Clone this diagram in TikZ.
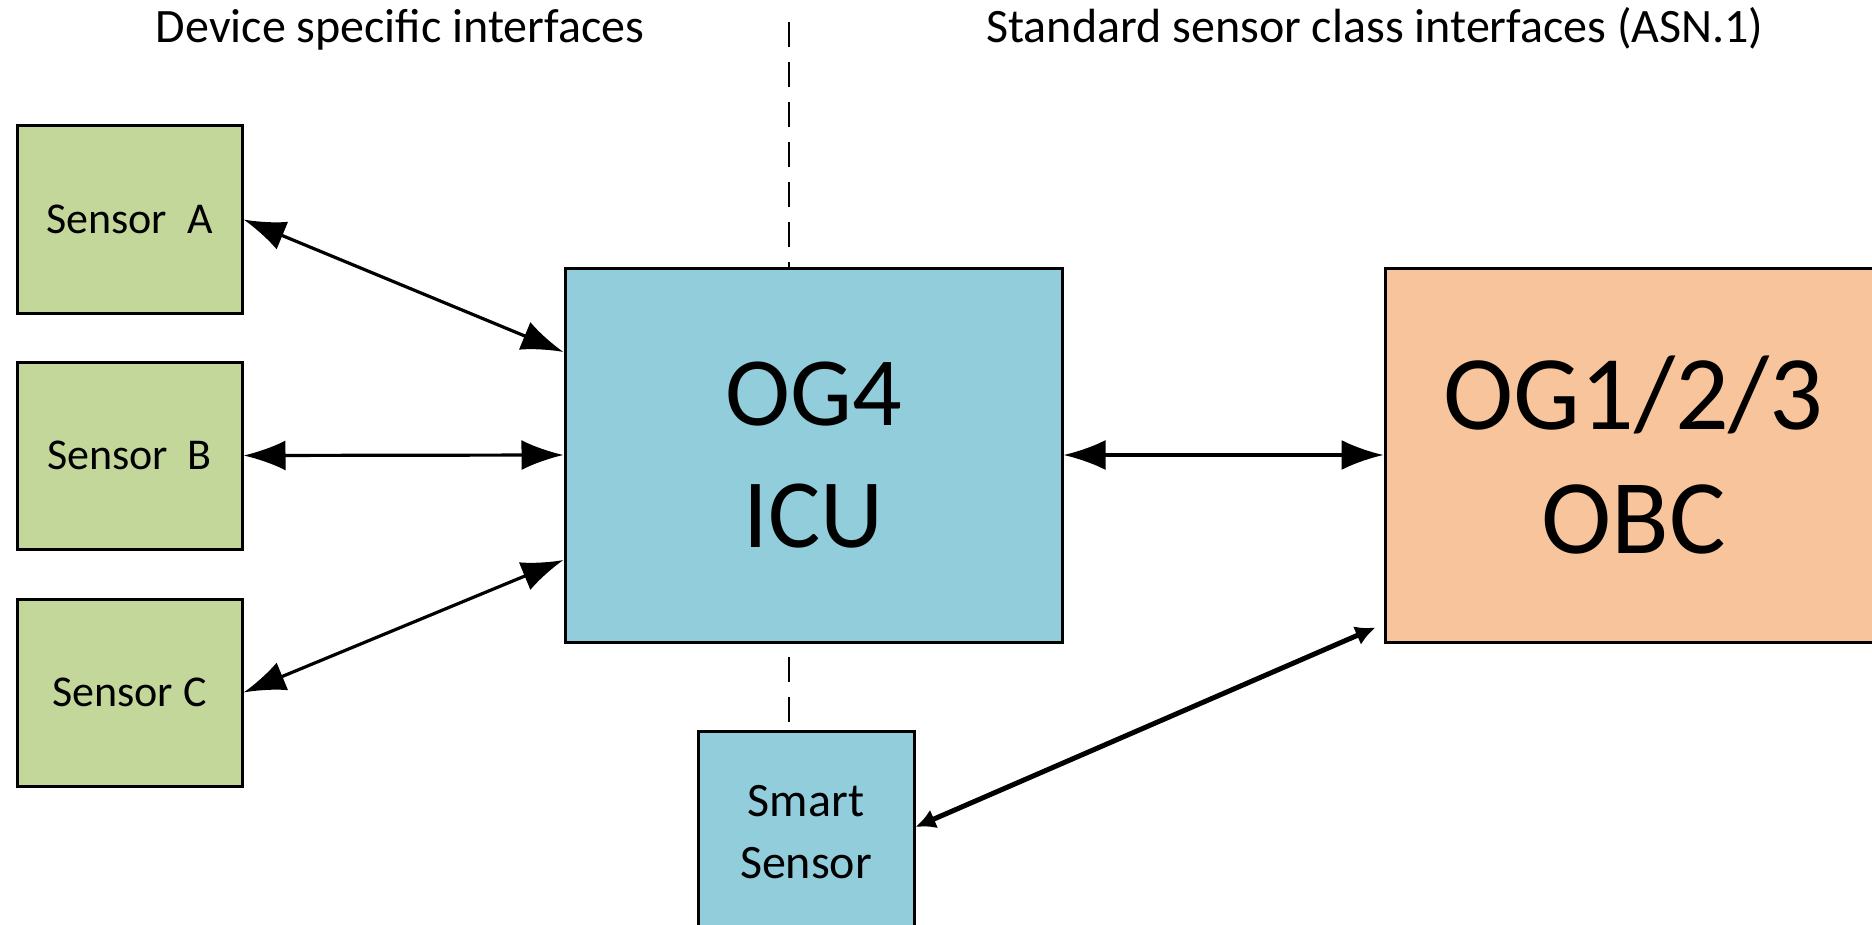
\documentclass[tikz,border=0pt]{standalone}
\usepackage{fontspec}
\setmainfont{Carlito}
\usetikzlibrary{arrows.meta,calc}
\definecolor{sensorgreen}{HTML}{C4D79B}
\definecolor{icublue}{HTML}{92CDDC}
\definecolor{obcorange}{HTML}{F8C49B}
\begin{document}
\begin{tikzpicture}[x=0.5pt,y=-0.5pt,
  box/.style={draw,line width=1.5pt,inner sep=0pt,align=center},
  sensor/.style={box,fill=sensorgreen,minimum width=112.5pt,minimum height=93.5pt,font=\fontsize{22}{31}\selectfont},
  unit/.style={box,minimum width=248.5pt,minimum height=187pt},
  smartbox/.style={box,fill=icublue,minimum width=108pt,minimum height=101pt,font=\fontsize{24}{31}\selectfont},
  title/.style={anchor=base,inner sep=0pt,font=\fontsize{24}{28}\selectfont},
  link/.style={line width=1.6pt,{Latex[length=21pt,width=15pt]}-{Latex[length=21pt,width=15pt]}},
  smartlink/.style={line width=2.5pt,{Latex[length=10pt,width=10pt]}-{Latex[length=10pt,width=10pt]}},
  divider/.style={line width=1pt,dash pattern=on 12.5pt off 7.5pt}]
\useasboundingbox (0,0) rectangle (1872,925);
\clip (0,0) rectangle (1872,925);
\node[title] (devtitle) at (400,43) {Device specific interfaces};
\node[title] (stdtitle) at (1375,43) {Standard sensor class interfaces (ASN.1)};
\node[sensor] (sensA) at (129.5,219.5) {Sensor~ A};
\node[sensor] (sensB) at (129.5,455.5) {Sensor~ B};
\node[sensor] (sensC) at (129.5,692.5) {Sensor C};
\node[unit,fill=icublue,font=\fontsize{49}{61}\selectfont] (icu) at (813.5,455) {OG4\\ICU};
\node[unit,fill=obcorange,font=\fontsize{53}{62}\selectfont] (obc) at (1633.5,455) {OG1/2/3\\OBC};
\node[smartbox] (smart) at (806,832) {Smart\\Sensor};
\coordinate (divtop) at (789,22);
\coordinate (divlow) at (789,657);
\draw[divider] (divtop) -- (divtop |- icu.north);
\draw[divider] (divlow) -- (divlow |- smart.north);
\draw[link] (sensA.east) -- ($(icu.west)+(0,-103)$);
\draw[link] (sensB.east) -- (icu.west);
\draw[link] (sensC.east) -- ($(icu.west)+(0,105)$);
\draw[link] (icu.east) -- (obc.west);
\draw[smartlink] ($(smart.east)+(0,-5)$) -- ($(obc.south west)+(-8,-16)$);
\end{tikzpicture}
\end{document}
